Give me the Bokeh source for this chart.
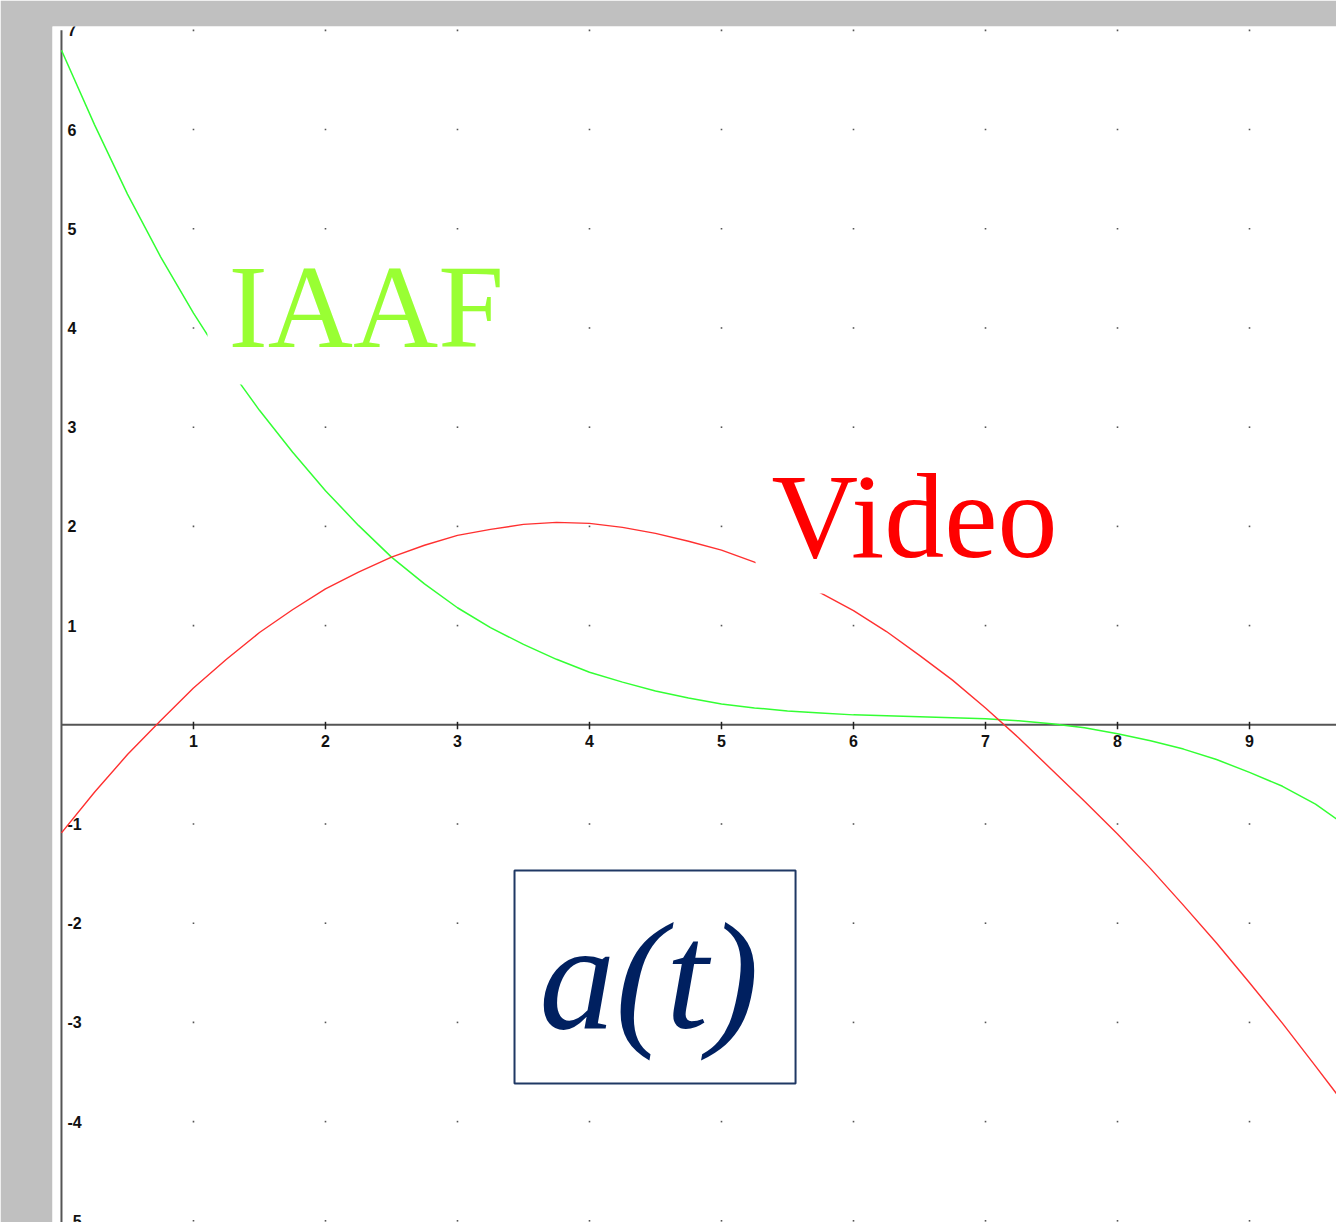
from bokeh.plotting import figure
from bokeh.models import Label, BoxAnnotation, Range1d
from bokeh.core.properties import value
from bokeh.embed import file_html
from bokeh.resources import INLINE

# ---------------- data ----------------
iaaf_t = [0.0, 0.25, 0.5, 0.75, 1.0, 1.25, 1.5, 1.75, 2.0, 2.25, 2.5, 2.75, 3.0,
          3.25, 3.5, 3.75, 4.0, 4.25, 4.5, 4.75, 5.0, 5.25, 5.5, 5.75, 6.0, 6.25,
          6.5, 6.75, 7.0, 7.25, 7.5, 7.75, 8.0, 8.25, 8.5, 8.75, 9.0, 9.25, 9.5, 9.66]
iaaf_a = [6.80, 6.05, 5.35, 4.72, 4.15, 3.63, 3.17, 2.75, 2.36, 2.01, 1.69, 1.42, 1.18,
          0.98, 0.81, 0.66, 0.53, 0.43, 0.34, 0.27, 0.21, 0.17, 0.14, 0.12, 0.10, 0.09,
          0.08, 0.07, 0.06, 0.04, 0.01, -0.03, -0.09, -0.16, -0.245, -0.35, -0.48, -0.62, -0.80, -0.95]

video_t = [0.0, 0.25, 0.5, 0.75, 1.0, 1.25, 1.5, 1.75, 2.0, 2.25, 2.5, 2.75, 3.0,
           3.25, 3.5, 3.75, 4.0, 4.25, 4.5, 4.75, 5.0, 5.25, 5.5, 5.75, 6.0, 6.25,
           6.5, 6.75, 7.0, 7.25, 7.5, 7.75, 8.0, 8.25, 8.5, 8.75, 9.0, 9.25, 9.5, 9.66]
video_a = [-1.09, -0.68, -0.30, 0.04, 0.37, 0.66, 0.93, 1.16, 1.37, 1.54, 1.69, 1.81, 1.91,
           1.97, 2.02, 2.04, 2.03, 1.99, 1.93, 1.85, 1.76, 1.64, 1.50, 1.33, 1.15, 0.94,
           0.70, 0.45, 0.17, -0.13, -0.45, -0.77, -1.10, -1.45, -1.82, -2.20, -2.60, -3.01, -3.44, -3.72]

x_ticks = [1, 2, 3, 4, 5, 6, 7, 8, 9]
x_tick_labels = ["1", "2", "3", "4", "5", "6", "7", "8", "9"]
y_ticks = [-5, -4, -3, -2, -1, 1, 2, 3, 4, 5, 6, 7]
y_tick_labels = ["-5", "-4", "-3", "-2", "-1", "1", "2", "3", "4", "5", "6", "7"]
dot_rows = [-5, -4, -3, -2, -1, 1, 2, 3, 4, 5, 6, 7]

label_iaaf = "IAAF"
label_video = "Video"
label_formula = "a(t)"

# ---------------- view ----------------
X0, X1 = -0.068, 9.659
Y0, Y1 = -5.017, 7.039

p = figure(width=1336, height=1222, output_backend="svg", toolbar_location=None,
           x_range=Range1d(X0, X1), y_range=Range1d(Y0, Y1),
           x_axis_location=None, y_axis_location=None,
           min_border_left=52, min_border_top=26, min_border_right=0, min_border_bottom=0,
           border_fill_color="#c0c0c0", background_fill_color="white",
           outline_line_color=None)
p.grid.grid_line_color = None

AX_COLOR = "#555555"
# axes through origin
p.segment(x0=[0], y0=[0], x1=[X1], y1=[0], line_color=AX_COLOR, line_width=2)
p.segment(x0=[0], y0=[Y0], x1=[0], y1=[max(y_ticks)], line_color=AX_COLOR, line_width=2)
# x tick marks
p.segment(x0=x_ticks, y0=[0.03] * len(x_ticks), x1=x_ticks, y1=[-0.045] * len(x_ticks),
          line_color="#202020", line_width=1.5)

# grid dots
gx = [x for y in dot_rows for x in x_ticks]
gy = [y for y in dot_rows for x in x_ticks]
p.scatter(gx, gy, marker="square", size=1.6, fill_color="#555555", line_color=None)

TICK_FONT = value("Liberation Sans")
p.text(x=x_ticks, y=[0] * len(x_ticks), text=x_tick_labels, text_align="center",
       text_baseline="top", y_offset=10, text_font=TICK_FONT, text_font_style="bold",
       text_font_size="16px", text_color="#111111")
p.text(x=[0] * len(y_ticks), y=y_ticks, text=y_tick_labels, text_align="left",
       text_baseline="middle", x_offset=6, text_font=TICK_FONT, text_font_style="bold",
       text_font_size="16px", text_color="#111111")

# curves
p.line(iaaf_t, iaaf_a, line_color="#33ff33", line_width=1.5)
p.line(video_t, video_a, line_color="#ff3030", line_width=1.4)

# labels with white background (hide the curves behind them)
p.add_layout(Label(x=1.106, y=4.175, text=label_iaaf, text_font="Liberation Serif",
                   text_font_size="118px", text_color="#99ff33", text_baseline="alphabetic",
                   background_fill_color="white",
                   padding=dict(left=21, right=10, top=5, bottom=12)))
p.add_layout(Label(x=5.258, y=2.07, text=label_video, text_font="Liberation Serif",
                   text_font_size="120px", text_color="#ff0000", text_baseline="alphabetic",
                   background_fill_color="white",
                   padding=dict(left=16, right=10, top=5, bottom=10)))

# formula box
p.add_layout(BoxAnnotation(left=3.432, right=5.561, top=-1.469, bottom=-3.616,
                           fill_color="white", fill_alpha=1.0,
                           line_color="#1f3864", line_width=2, line_alpha=1.0))
p.add_layout(Label(x=4.451, y=-2.54, text=label_formula, text_font="Liberation Serif",
                   text_font_style="italic", text_font_size="152px", text_color="#002060",
                   text_align="center", text_baseline="alphabetic"))

open("out.html", "w").write(file_html(p, INLINE))
